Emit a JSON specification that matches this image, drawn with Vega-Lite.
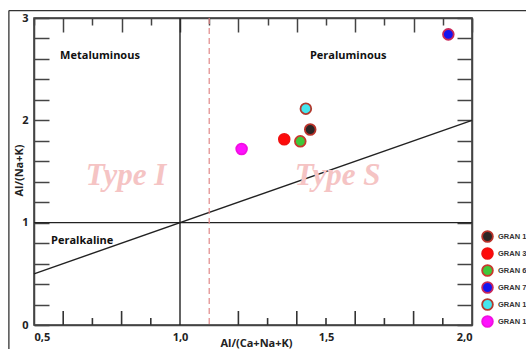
{
  "$schema": "https://vega.github.io/schema/vega-lite/v6.json",
  "autosize": {"type": "none"},
  "width": 438,
  "height": 307,
  "padding": {"left": 34, "top": 18, "right": 54, "bottom": 24},
  "background": "white",
  "config": {
    "view": {"stroke": "#333", "strokeWidth": 1.5},
    "axis": {
      "domainColor": "#444", "domainWidth": 1.5,
      "tickColor": "#444", "tickWidth": 1.5,
      "labelFont": "Open Sans", "labelFontWeight": "bold", "labelFontSize": 11, "labelColor": "#222",
      "titleFont": "Open Sans", "titleFontWeight": "bold", "titleFontSize": 11, "titleColor": "#222",
      "grid": false
    }
  },
  "datasets": {
    "segments": [
      {"x": 1.0, "x2": 1.0, "y": 0, "y2": 3},
      {"x": 0.5, "x2": 2.0, "y": 1, "y2": 1},
      {"x": 0.5, "x2": 2.0, "y": 0.5, "y2": 2.0}
    ],
    "frame": [
      {"x": 0.414, "x2": 0.414, "y": -1, "y2": 3.073},
      {"x": 0.414, "x2": 2.6, "y": 3.073, "y2": 3.073}
    ],
    "bottomTicks": [
      {"x": 0.6, "y": 0, "y2": 0.137},
      {"x": 0.7, "y": 0, "y2": 0.068},
      {"x": 0.8, "y": 0, "y2": 0.137},
      {"x": 0.9, "y": 0, "y2": 0.068},
      {"x": 1.2, "y": 0, "y2": 0.137},
      {"x": 1.3, "y": 0, "y2": 0.068},
      {"x": 1.4, "y": 0, "y2": 0.137},
      {"x": 1.5, "y": 0, "y2": 0.068},
      {"x": 1.6, "y": 0, "y2": 0.137},
      {"x": 1.7, "y": 0, "y2": 0.068},
      {"x": 1.8, "y": 0, "y2": 0.137},
      {"x": 1.9, "y": 0, "y2": 0.068}
    ],
    "regions": [
      {"label": "Metaluminous", "x": 0.726, "y": 2.63},
      {"label": "Peraluminous", "x": 1.576, "y": 2.63},
      {"label": "Peralkaline", "x": 0.665, "y": 0.82}
    ],
    "types": [
      {"label": "Type I", "x": 0.815, "y": 1.46},
      {"label": "Type S", "x": 1.54, "y": 1.46}
    ],
    "samples": [
      {"name": "GRAN 1", "x": 1.446, "y": 1.91},
      {"name": "GRAN 3", "x": 1.357, "y": 1.815},
      {"name": "GRAN 6", "x": 1.412, "y": 1.795},
      {"name": "GRAN 7", "x": 1.919, "y": 2.84},
      {"name": "GRAN 12", "x": 1.431, "y": 2.114},
      {"name": "GRAN 13", "x": 1.211, "y": 1.72}
    ]
  },
  "layer": [
    {
      "data": {"name": "segments"},
      "mark": {"type": "rule", "color": "#222", "strokeWidth": 1.4},
      "encoding": {
        "x": {"field": "x", "type": "quantitative",
          "scale": {"domain": [0.5, 2.0], "nice": false, "zero": false},
          "axis": {
            "orient": "bottom",
            "values": [0.5, 1.0, 1.5, 2.0],
            "ticks": false,
            "labelPadding": 6,
            "labelExpr": "replace(format(datum.value, '.1f'), '.', ',')",
            "title": "Al/(Ca+Na+K)",
            "titleX": 222, "titleY": 21, "titleBaseline": "alphabetic"
          }
        },
        "x2": {"field": "x2"},
        "y": {"field": "y", "type": "quantitative",
          "scale": {"domain": [0, 3], "nice": false, "zero": false},
          "axis": {
            "orient": "left",
            "values": [0,0.2,0.4,0.6,0.8,1.0,1.2,1.4,1.6,1.8,2.0,2.2,2.4,2.6,2.8,3.0],
            "tickSize": -15,
            "labelPadding": 21,
            "labelBaseline": "middle",
            "labelExpr": "round(datum.value*10) % 10 == 0 ? format(datum.value, 'd') : ''",
            "title": "Al/(Na+K)",
            "titleX": -15, "titleY": 152, "titleAngle": -90, "titleBaseline": "middle"
          }
        },
        "y2": {"field": "y2"}
      }
    },
    {
      "data": {"name": "frame"},
      "mark": {"type": "rule", "color": "#333", "strokeWidth": 1.3, "clip": false},
      "encoding": {
        "x": {"field": "x", "type": "quantitative",
          "axis": {
            "orient": "top",
            "values": [0.5,0.6,0.7,0.8,0.9,1.0,1.1,1.2,1.3,1.4,1.5,1.6,1.7,1.8,1.9,2.0],
            "tickSize": {"condition": {"test": "round(datum.value*10) % 2 == 0", "value": -14}, "value": -7},
            "labels": false, "title": null
          }
        },
        "x2": {"field": "x2"},
        "y": {"field": "y", "type": "quantitative",
          "axis": {
            "orient": "right",
            "values": [0,0.2,0.4,0.6,0.8,1.0,1.2,1.4,1.6,1.8,2.0,2.2,2.4,2.6,2.8,3.0],
            "tickSize": -15,
            "labels": false, "title": null
          }
        },
        "y2": {"field": "y2"}
      }
    },
    {
      "data": {"values": [{"x": 1.1}]},
      "mark": {"type": "rule", "color": "#e08888", "strokeWidth": 1.2, "strokeDash": [6, 4]},
      "encoding": {
        "x": {"field": "x", "type": "quantitative", "axis": null}
      }
    },
    {
      "data": {"name": "types"},
      "mark": {"type": "text", "font": "Liberation Serif", "fontStyle": "italic", "fontWeight": "bold", "fontSize": 31, "color": "#f5c4c4", "baseline": "middle", "align": "center"},
      "encoding": {
        "x": {"field": "x", "type": "quantitative", "axis": null},
        "y": {"field": "y", "type": "quantitative", "axis": null},
        "text": {"field": "label"}
      }
    },
    {
      "data": {"name": "regions"},
      "mark": {"type": "text", "font": "Open Sans", "fontWeight": "bold", "fontSize": 11, "color": "#111", "baseline": "middle", "align": "center"},
      "encoding": {
        "x": {"field": "x", "type": "quantitative", "axis": null},
        "y": {"field": "y", "type": "quantitative", "axis": null},
        "text": {"field": "label"}
      }
    },
    {
      "data": {"name": "samples"},
      "mark": {"type": "point", "shape": "circle", "filled": true, "size": 115, "strokeWidth": 1.8, "opacity": 1},
      "encoding": {
        "x": {"field": "x", "type": "quantitative", "axis": null},
        "y": {"field": "y", "type": "quantitative", "axis": null},
        "fill": {"field": "name", "type": "nominal",
          "scale": {"domain": ["GRAN 1", "GRAN 3", "GRAN 6", "GRAN 7", "GRAN 12", "GRAN 13"],
                    "range": ["#2b2626", "#ff0a0a", "#3fc83a", "#1414f0", "#45e6ee", "#ff10ff"]},
          "legend": {
            "orient": "none", "legendX": 447, "legendY": 212,
            "title": null, "padding": 0,
            "symbolSize": 115, "symbolStrokeWidth": 1.8,
            "rowPadding": -2,
            "labelFont": "Liberation Sans", "labelFontWeight": "bold", "labelFontSize": 7.5, "labelColor": "#333",
            "labelOffset": 4, "labelLimit": 100
          }
        },
        "stroke": {"field": "name", "type": "nominal",
          "scale": {"domain": ["GRAN 1", "GRAN 3", "GRAN 6", "GRAN 7", "GRAN 12", "GRAN 13"],
                    "range": ["#b8322a", "#f01010", "#c8382e", "#c8285a", "#b23a2e", "#f010e0"]}
        }
      }
    },
    {
      "data": {"name": "bottomTicks"},
      "mark": {"type": "rule", "color": "#333", "strokeWidth": 1.6, "clip": false},
      "encoding": {
        "x": {"field": "x", "type": "quantitative", "axis": null},
        "y": {"field": "y", "type": "quantitative", "axis": null},
        "y2": {"field": "y2"}
      }
    }
  ],
  "resolve": {"axis": {"x": "independent", "y": "independent"}}
}
